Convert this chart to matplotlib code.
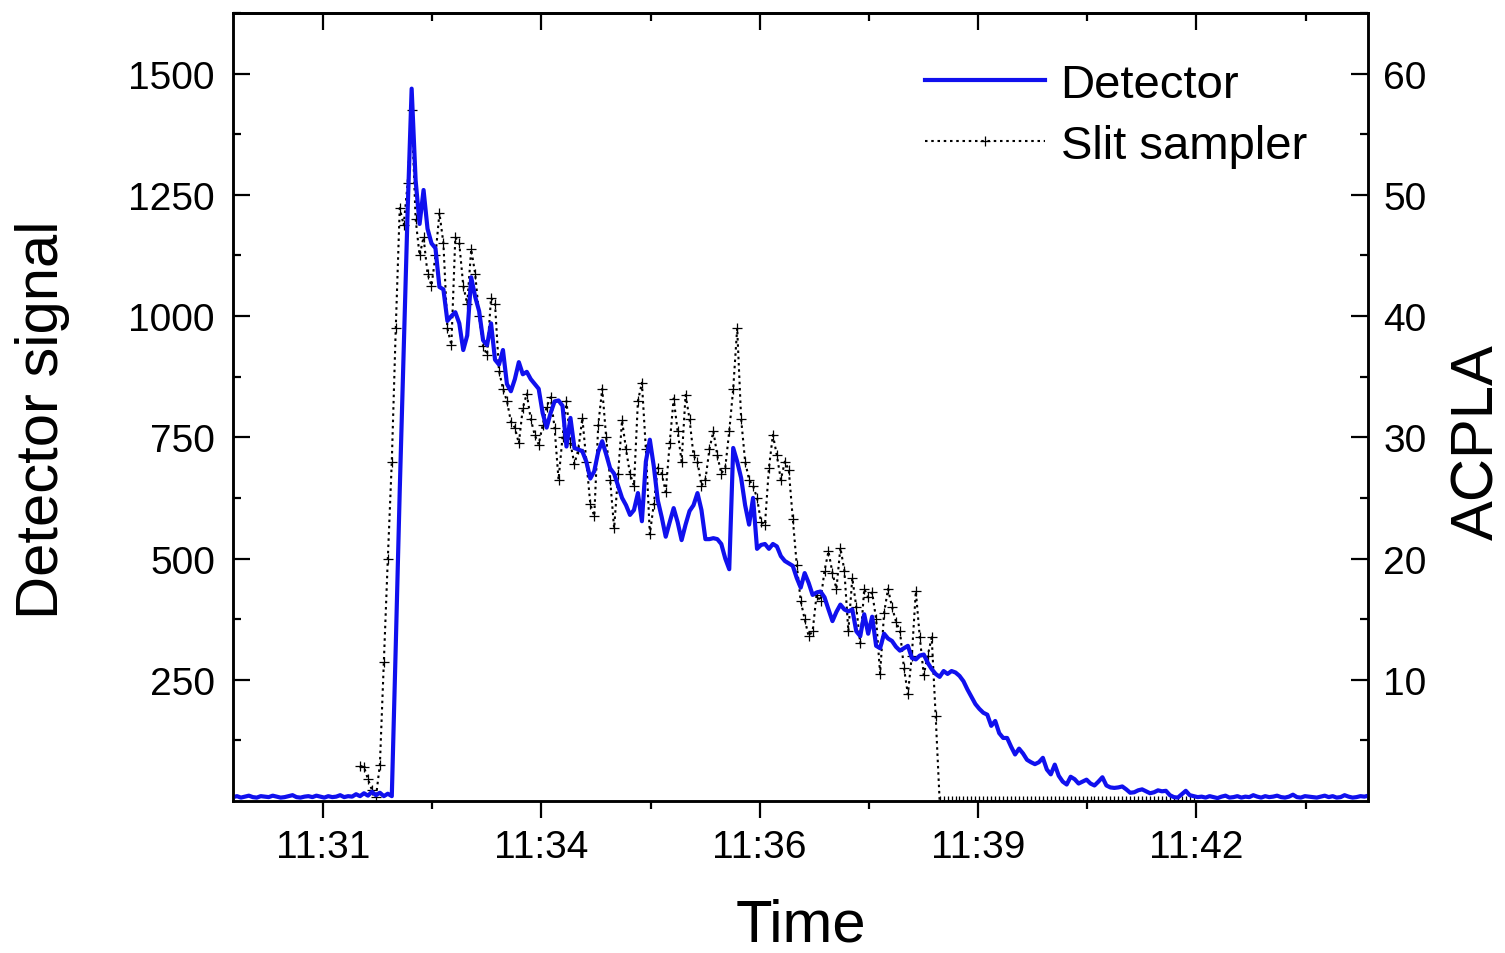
import numpy as np
import matplotlib
matplotlib.use("Agg")
import matplotlib.pyplot as plt

plt.rcParams['font.family'] = ['Liberation Sans', 'DejaVu Sans']

# ---------------- data ----------------
# time axis in minutes from start of record (uniform sampling)
det_t0, det_dt = 0.0, 0.05
detector = [
    8, 10, 7, 9, 11, 8, 7, 10, 9, 8,
    11, 9, 7, 8, 10, 12, 8, 7, 9, 10,
    8, 11, 9, 7, 10, 8, 9, 12, 8, 10,
    9, 14, 10, 16, 11, 19, 12, 17, 10, 15,
    10, 320, 640, 930, 1220, 1469, 1280, 1190, 1260, 1180,
    1150, 1140, 1060, 1055, 990, 1000, 1008, 985, 930, 960,
    1080, 1040, 1010, 950, 940, 985, 910, 900, 930, 860,
    845, 870, 905, 880, 885, 870, 860, 850, 800, 770,
    800, 824, 826, 815, 731, 790, 728, 725, 721, 700,
    665, 680, 720, 742, 715, 686, 675, 650, 625, 610,
    590, 600, 635, 577, 700, 745, 690, 620, 585, 545,
    575, 604, 575, 538, 570, 598, 610, 635, 600, 540,
    540, 542, 540, 530, 500, 478, 728, 700, 666, 610,
    570, 625, 520, 528, 530, 520, 530, 525, 505, 495,
    490, 485, 460, 440, 470, 450, 425, 430, 432, 420,
    395, 371, 390, 405, 395, 391, 395, 350, 340, 385,
    345, 380, 320, 315, 345, 335, 330, 318, 310, 315,
    320, 295, 292, 300, 302, 285, 272, 262, 256, 268,
    262, 268, 265, 258, 247, 230, 215, 200, 190, 182,
    178, 155, 165, 140, 130, 130, 112, 96, 108, 98,
    85, 80, 76, 80, 89, 65, 55, 75, 52, 40,
    34, 50, 45, 36, 40, 44, 36, 32, 40, 49,
    32, 28, 27, 28, 30, 24, 17, 18, 22, 24,
    20, 16, 18, 22, 20, 21, 12, 8, 7, 14,
    21, 12, 10,
    8, 9, 7, 10, 8, 6, 9, 11, 7, 8,
    10, 7, 9, 8, 12, 9, 7, 10, 8, 9,
    11, 8, 7, 9, 13, 8, 7, 10, 9, 8,
    7, 9, 11, 8, 10, 7, 8, 12, 9, 7,
    8, 10, 9, 11,
]

slit_t0, slit_dt = 1.6, 0.05
slit = [
    2.9, 2.8, 1.8, 0.9, 0.3, 3.0, 11.5, 20.0, 28.0, 39.0,
    48.9, 47.5, 51.0, 57.0, 48.0, 45.0, 46.5, 43.5, 42.5, 45.0,
    48.5, 46.0, 39.0, 37.6, 46.5, 46.0, 42.5, 41.0, 45.5, 43.5,
    40.0, 37.5, 36.8, 41.5, 41.0, 35.5, 34.0, 33.0, 31.3, 30.8,
    29.5, 32.4, 33.6, 31.5, 30.2, 29.4, 31.0, 32.5, 33.3, 30.8,
    26.5, 30.0, 33.0, 29.5, 27.8, 29.0, 31.6, 28.0, 24.5, 23.5,
    31.0, 34.0, 30.0, 26.5, 22.5, 27.0, 31.4, 29.0, 27.0, 26.0,
    33.0, 34.5, 29.0, 22.0, 24.5, 27.5, 27.0, 25.5, 29.5, 33.2,
    30.5, 28.0, 33.5, 31.5, 28.5, 28.0, 26.0, 26.5, 29.0, 30.5,
    28.5, 27.0, 27.5, 30.5, 34.0, 39.0, 31.5, 28.0, 26.5, 26.0,
    25.0, 23.0, 22.8, 27.5, 30.2, 28.5, 26.5, 28.0, 27.3, 23.3,
    19.5, 16.5, 15.0, 13.6, 14.0, 17.0, 16.5, 19.0, 20.6, 18.8,
    17.5, 20.9, 19.0, 14.0, 18.4, 16.0, 13.0, 17.5, 16.8, 17.2,
    15.0, 10.5, 15.5, 17.5, 16.0, 14.8, 14.0, 11.0, 8.8, 12.0,
    17.3, 13.5, 10.4, 12.0, 13.5, 7.0,
] + [0.0] * 65

x_major = [1.134, 3.884, 6.634, 9.384, 12.134]
x_minor = [2.509, 5.259, 8.009, 10.759, 13.509]
x_labels = ['11:31', '11:34', '11:36', '11:39', '11:42']
y_left_ticks = [250, 500, 750, 1000, 1250, 1500]
y_left_minor = [125, 375, 625, 875, 1125, 1375, 1625]
y_right_ticks = [10, 20, 30, 40, 50, 60]
y_right_minor = [5, 15, 25, 35, 45, 55, 65]

# ---------------- plot ----------------
t_det = det_t0 + det_dt * np.arange(len(detector))
t_slit = slit_t0 + slit_dt * np.arange(len(slit))

fig = plt.figure(figsize=(15.05, 9.54), dpi=100)
ax = fig.add_axes([233/1505, 1-802/954, (1368-233)/1505, (802-14)/954])
ax2 = ax.twinx()

ln_s, = ax2.plot(t_slit, slit, color='black', linestyle=(0, (1.2, 1.8)), lw=1.5,
                 marker='+', markersize=7.5, markeredgewidth=0.9, label='Slit sampler')
ln_d, = ax.plot(t_det, detector, color='#1010ee', lw=3.0, label='Detector')

ax.set_zorder(ax2.get_zorder() + 1)
ax.patch.set_visible(False)

ax.set_xlim(0, 14.295)
ax.set_ylim(0, 1625)
ax2.set_ylim(0, 65)

ax.set_xticks(x_major)
ax.set_xticklabels(x_labels)
ax.set_xticks(x_minor, minor=True)
ax.set_yticks(y_left_ticks)
ax.set_yticks(y_left_minor, minor=True)
ax2.set_yticks(y_right_ticks)
ax2.set_yticks(y_right_minor, minor=True)

fs_tick = 28
ax.tick_params(axis='x', which='both', direction='out', labelsize=fs_tick, width=1.6, pad=8)
ax.tick_params(axis='x', which='major', length=12)
ax.tick_params(axis='x', which='minor', length=6)
ax.tick_params(axis='y', which='both', direction='in', labelsize=fs_tick, width=1.6, pad=13)
ax.tick_params(axis='y', which='major', length=12)
ax.tick_params(axis='y', which='minor', length=6)
ax2.tick_params(axis='y', which='both', direction='in', labelsize=fs_tick, width=1.6, pad=11)
ax2.tick_params(axis='y', which='major', length=12)
ax2.tick_params(axis='y', which='minor', length=6)

sec = ax.secondary_xaxis('top')
sec.set_xticks(x_major)
sec.set_xticks(x_minor, minor=True)
sec.tick_params(axis='x', which='both', direction='in', labeltop=False, width=1.6)
sec.tick_params(axis='x', which='major', length=12)
sec.tick_params(axis='x', which='minor', length=6)

for a in (ax, ax2):
    for s in a.spines.values():
        s.set_linewidth(1.8)
sec.spines['top'].set_linewidth(1.8)

ax.set_ylabel('Detector signal', fontsize=43)
ax.yaxis.set_label_coords(-0.168, 0.485)
ax.yaxis.label.set_va('center')
ax2.set_ylabel('ACPLA', fontsize=43)
ax2.yaxis.set_label_coords(1.097, 0.457)
ax2.yaxis.label.set_va('center')
ax.set_xlabel('Time', fontsize=43)
ax.xaxis.set_label_coords(0.5, -0.157)
ax.xaxis.label.set_va('center')

ax.legend(handles=[ln_d, ln_s], loc='upper left', bbox_to_anchor=(925/1505, 1-64/954),
          bbox_transform=fig.transFigure, frameon=False, fontsize=34,
          handlelength=2.55, handletextpad=0.32, labelspacing=0.36,
          borderpad=0, borderaxespad=0, numpoints=1)

fig.savefig('out.png', dpi=100)
